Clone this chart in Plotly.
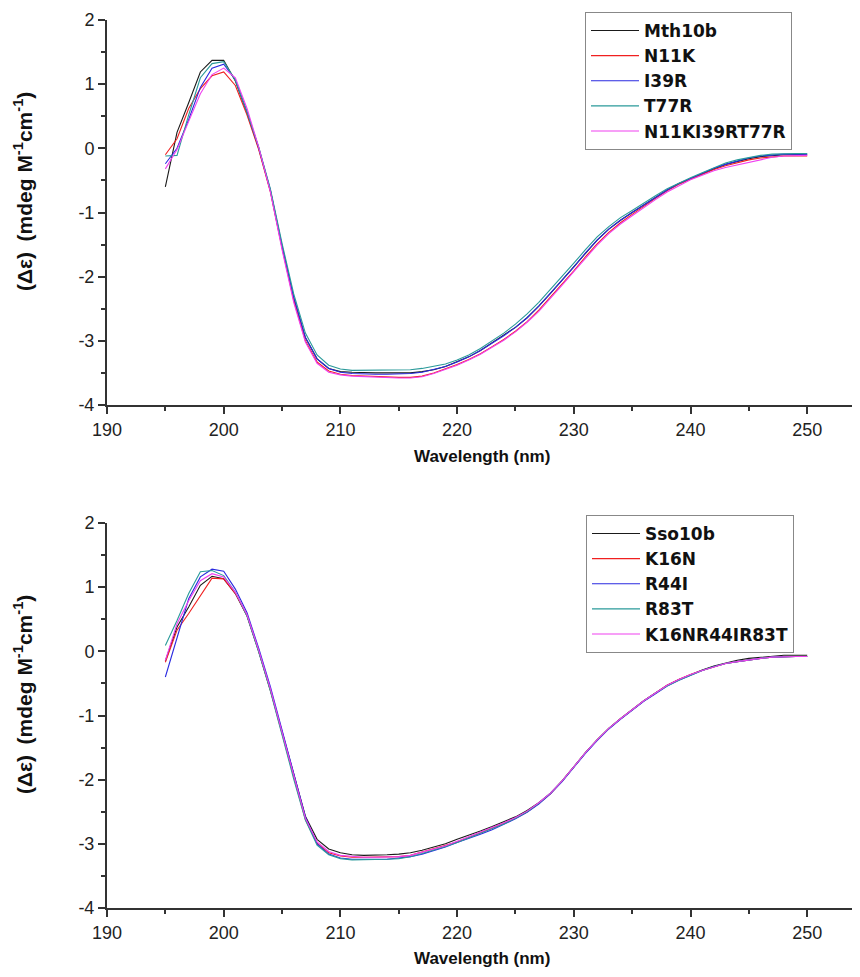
import plotly.graph_objects as go

wavelength = list(range(195, 251))

# ---- top panel (Mth10b family) ----
top_names = ["Mth10b", "N11K", "I39R", "T77R", "N11KI39RT77R"]
mth10b = [-0.60, 0.25, 0.71, 1.19, 1.37, 1.37, 1.05, 0.55, 0.00, -0.66, -1.53, -2.33, -2.95, -3.28, -3.43,
          -3.48, -3.49, -3.50, -3.50, -3.50, -3.50, -3.50, -3.48, -3.45, -3.40, -3.33, -3.25, -3.15, -3.03, -2.92,
          -2.79, -2.64, -2.46, -2.26, -2.05, -1.85, -1.63, -1.43, -1.26, -1.12, -1.00, -0.88, -0.76, -0.65, -0.55,
          -0.47, -0.39, -0.32, -0.25, -0.20, -0.16, -0.13, -0.11, -0.10, -0.10, -0.10]
n11k = [-0.10, 0.15, 0.62, 0.93, 1.13, 1.19, 0.98, 0.52, -0.02, -0.68, -1.55, -2.37, -3.00, -3.33, -3.47,
        -3.52, -3.54, -3.55, -3.55, -3.56, -3.57, -3.57, -3.55, -3.50, -3.44, -3.37, -3.29, -3.20, -3.09, -2.98,
        -2.85, -2.70, -2.52, -2.32, -2.11, -1.91, -1.69, -1.49, -1.31, -1.16, -1.03, -0.90, -0.78, -0.66, -0.56,
        -0.48, -0.40, -0.33, -0.27, -0.22, -0.18, -0.15, -0.13, -0.12, -0.12, -0.12]
i39r = [-0.24, 0.00, 0.45, 0.95, 1.25, 1.31, 1.07, 0.57, 0.01, -0.65, -1.52, -2.32, -2.95, -3.28, -3.43,
        -3.49, -3.51, -3.52, -3.52, -3.52, -3.52, -3.51, -3.49, -3.45, -3.40, -3.33, -3.25, -3.15, -3.04, -2.92,
        -2.79, -2.64, -2.46, -2.26, -2.05, -1.85, -1.63, -1.43, -1.26, -1.12, -1.00, -0.88, -0.76, -0.65, -0.55,
        -0.47, -0.39, -0.31, -0.25, -0.20, -0.15, -0.12, -0.10, -0.09, -0.09, -0.09]
t77r = [-0.12, -0.11, 0.52, 1.10, 1.32, 1.35, 1.06, 0.56, 0.02, -0.63, -1.48, -2.27, -2.88, -3.22, -3.38,
        -3.44, -3.46, -3.46, -3.46, -3.46, -3.46, -3.45, -3.43, -3.40, -3.36, -3.30, -3.22, -3.12, -3.00, -2.88,
        -2.74, -2.58, -2.40, -2.20, -1.99, -1.79, -1.58, -1.38, -1.22, -1.08, -0.97, -0.85, -0.74, -0.63, -0.54,
        -0.46, -0.38, -0.30, -0.23, -0.18, -0.14, -0.11, -0.09, -0.08, -0.08, -0.08]
n11k_i39r_t77r = [-0.32, -0.02, 0.42, 0.85, 1.15, 1.25, 1.10, 0.62, 0.02, -0.68, -1.58, -2.40, -3.02, -3.35, -3.49,
                  -3.53, -3.55, -3.56, -3.56, -3.57, -3.58, -3.58, -3.56, -3.51, -3.45, -3.38, -3.30, -3.21, -3.10, -2.99,
                  -2.86, -2.71, -2.54, -2.34, -2.13, -1.92, -1.71, -1.51, -1.33, -1.18, -1.05, -0.92, -0.80, -0.68, -0.58,
                  -0.49, -0.42, -0.35, -0.30, -0.26, -0.22, -0.18, -0.14, -0.12, -0.11, -0.11]

# ---- bottom panel (Sso10b family) ----
bottom_names = ["Sso10b", "K16N", "R44I", "R83T", "K16NR44IR83T"]
sso10b = [-0.15, 0.38, 0.69, 1.03, 1.17, 1.13, 0.90, 0.55, 0.00, -0.60, -1.25, -1.93, -2.57, -2.93, -3.08,
          -3.14, -3.17, -3.18, -3.18, -3.17, -3.16, -3.14, -3.10, -3.05, -3.00, -2.93, -2.87, -2.80, -2.73, -2.65,
          -2.58, -2.48, -2.36, -2.21, -2.02, -1.80, -1.58, -1.38, -1.20, -1.05, -0.91, -0.77, -0.65, -0.53, -0.44,
          -0.36, -0.29, -0.23, -0.18, -0.14, -0.11, -0.09, -0.07, -0.06, -0.06, -0.06]
k16n = [-0.17, 0.33, 0.59, 0.87, 1.14, 1.13, 0.90, 0.56, 0.00, -0.61, -1.28, -1.97, -2.62, -2.99, -3.14,
        -3.19, -3.21, -3.21, -3.21, -3.21, -3.20, -3.18, -3.13, -3.08, -3.03, -2.97, -2.90, -2.83, -2.76, -2.68,
        -2.60, -2.50, -2.37, -2.22, -2.02, -1.80, -1.58, -1.38, -1.20, -1.05, -0.91, -0.77, -0.65, -0.53, -0.44,
        -0.36, -0.30, -0.24, -0.19, -0.16, -0.13, -0.11, -0.09, -0.08, -0.08, -0.08]
r44i = [-0.40, 0.22, 0.82, 1.16, 1.28, 1.25, 0.97, 0.60, 0.05, -0.55, -1.22, -1.92, -2.58, -3.00, -3.16,
        -3.22, -3.24, -3.24, -3.24, -3.24, -3.22, -3.20, -3.16, -3.11, -3.05, -2.98, -2.92, -2.85, -2.78, -2.70,
        -2.61, -2.51, -2.38, -2.22, -2.03, -1.81, -1.59, -1.39, -1.21, -1.06, -0.92, -0.78, -0.66, -0.54, -0.45,
        -0.37, -0.30, -0.24, -0.19, -0.16, -0.13, -0.11, -0.09, -0.08, -0.08, -0.08]
r83t = [0.09, 0.48, 0.90, 1.24, 1.26, 1.18, 0.92, 0.55, -0.01, -0.62, -1.30, -1.99, -2.63, -3.02, -3.17,
        -3.23, -3.25, -3.25, -3.25, -3.24, -3.23, -3.20, -3.15, -3.10, -3.04, -2.98, -2.91, -2.84, -2.77, -2.69,
        -2.60, -2.50, -2.37, -2.21, -2.02, -1.80, -1.58, -1.38, -1.20, -1.05, -0.91, -0.77, -0.65, -0.54, -0.45,
        -0.37, -0.30, -0.24, -0.19, -0.16, -0.13, -0.11, -0.09, -0.08, -0.08, -0.08]
k16n_r44i_r83t = [-0.14, 0.43, 0.79, 1.10, 1.21, 1.16, 0.92, 0.57, 0.02, -0.58, -1.26, -1.95, -2.60, -2.97, -3.12,
                  -3.18, -3.20, -3.21, -3.21, -3.21, -3.20, -3.18, -3.13, -3.08, -3.03, -2.96, -2.89, -2.82, -2.75, -2.67,
                  -2.59, -2.49, -2.36, -2.21, -2.02, -1.80, -1.58, -1.38, -1.20, -1.05, -0.91, -0.77, -0.65, -0.53, -0.44,
                  -0.36, -0.30, -0.24, -0.19, -0.16, -0.13, -0.11, -0.09, -0.08, -0.08, -0.08]

x_ticks = [190, 200, 210, 220, 230, 240, 250]
y_ticks = [-4, -3, -2, -1, 0, 1, 2]
y_ticktext = ["-4", "-3", "-2", "-1", "0", "1", "2"]

colors = ["#1a1a1a", "#f02020", "#2a2ae0", "#2a9a9a", "#f040f0"]
FONT = "Arial, Liberation Sans, sans-serif"
LEG_FONT = "DejaVu Sans, Arial, sans-serif"

# the page body adds an 8px offset; positions below are given in screenshot pixels
OFF = 8
W, H = 860 - OFF, 977 - OFF
ML, MR, MT = 107 - OFF, 0, 20 - OFF
BOTTOM_AXIS = 908 - OFF
MB = H - BOTTOM_AXIS
PH = H - MT - MB

def py(pix):
    return (H - MB - (pix - OFF)) / PH

def px(pix):
    return ((pix - OFF) - ML) / (W - ML - MR)

fig = go.Figure()

top_series = [mth10b, n11k, i39r, t77r, n11k_i39r_t77r]
bot_series = [sso10b, k16n, r44i, r83t, k16n_r44i_r83t]

for name, vals, c in zip(top_names, top_series, colors):
    fig.add_trace(go.Scatter(x=wavelength, y=vals, mode="lines", name="<b>" + name + "</b>",
                             line=dict(color=c, width=1.1), xaxis="x", yaxis="y", legend="legend"))
for name, vals, c in zip(bottom_names, bot_series, colors):
    fig.add_trace(go.Scatter(x=wavelength, y=vals, mode="lines", name="<b>" + name + "</b>",
                             line=dict(color=c, width=1.1), xaxis="x2", yaxis="y2", legend="legend2"))

axis_common = dict(showline=True, linecolor="#333333", linewidth=2, ticks="outside", ticklen=7,
                   tickwidth=1.5, tickcolor="#333333", showgrid=False, zeroline=False,
                   tickfont=dict(family=FONT, size=18, color="#222222"))

xa = dict(axis_common, range=[190, 190 + (W - ML - MR) / 11.67], tickvals=x_ticks,
          minor=dict(dtick=5, tick0=190, ticks="outside", ticklen=4, tickwidth=1.5, tickcolor="#333333"))
ya = dict(axis_common, range=[-4, 2], tickvals=y_ticks, ticktext=y_ticktext,
          minor=dict(dtick=0.5, tick0=0, ticks="outside", ticklen=4, tickwidth=1.5, tickcolor="#333333"))

leg_common = dict(xanchor="left", yanchor="top", bordercolor="#888888", borderwidth=1, bgcolor="white",
                  font=dict(family=LEG_FONT, size=17, color="#111111"), tracegroupgap=0, itemwidth=48)

fig.update_layout(
    width=W, height=H,
    margin=dict(l=ML, r=MR, t=MT, b=MB),
    paper_bgcolor="white", plot_bgcolor="white",
    xaxis=dict(xa, domain=[0, 1], anchor="y"),
    yaxis=dict(ya, domain=[py(405), 1], anchor="x"),
    xaxis2=dict(xa, domain=[0, 1], anchor="y2"),
    yaxis2=dict(ya, domain=[0, py(523)], anchor="x2"),
    legend=dict(leg_common, x=px(585), y=py(12)),
    legend2=dict(leg_common, x=px(586), y=py(515)),
    showlegend=True,
)

ytitle = "<b>(Δε)\u2002(mdeg M<sup>-1</sup>cm<sup>-1</sup>)</b>"
for cy in [py(192), py(695)]:
    fig.add_annotation(text=ytitle, xref="paper", yref="paper", x=px(23), y=cy, showarrow=False,
                       textangle=-90, xanchor="center", yanchor="middle",
                       font=dict(family=FONT, size=21, color="#111111"))
for cy in [py(456), py(958)]:
    fig.add_annotation(text="<b>Wavelength (nm)</b>", xref="paper", yref="paper", x=px(482), y=cy,
                       showarrow=False, xanchor="center", yanchor="middle",
                       font=dict(family=FONT, size=17, color="#111111"))

fig.write_html("out.html")
